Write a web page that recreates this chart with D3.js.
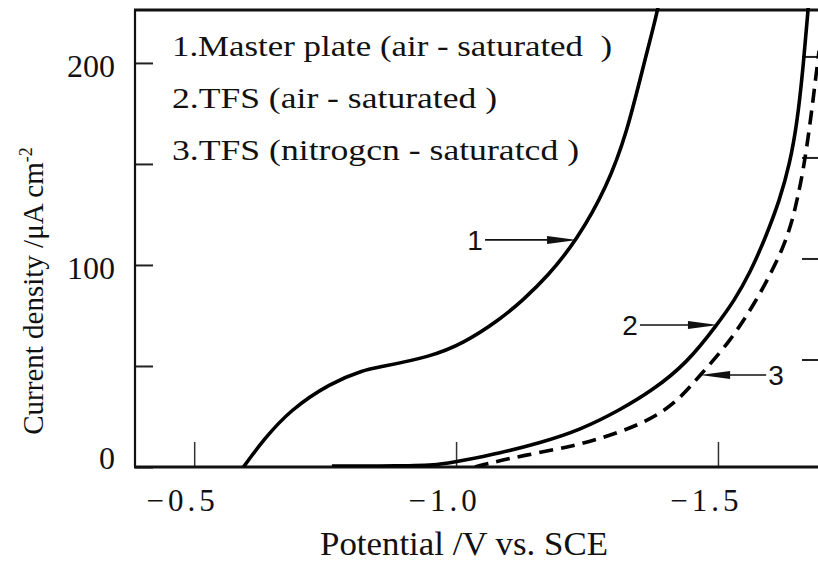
<!DOCTYPE html>
<html>
<head>
<meta charset="utf-8">
<script src="https://cdn.jsdelivr.net/npm/d3@7"></script>
<style>
  body { margin: 0; background: #fff; }
</style>
</head>
<body>
<div id="chart"></div>
<script>
// potential (V vs. SCE) and current density (uA/cm2)
const masterAir = [
  [-0.594, 0], [-0.632, 13.4], [-0.683, 28.2], [-0.760, 41.6], [-0.823, 48.0],
  [-0.855, 49.5], [-0.950, 54.5], [-1.013, 61.0], [-1.084, 73.0], [-1.128, 82.7],
  [-1.174, 94.1], [-1.231, 112.4], [-1.288, 138.6], [-1.326, 165.3], [-1.357, 198.0],
  [-1.384, 224.8], [-1.392, 236]
];
const tfsAir = [
  [-0.763, 0.5], [-0.893, 0.5], [-0.969, 1], [-1.008, 3], [-1.084, 6.9],
  [-1.160, 11.9], [-1.237, 18.3], [-1.313, 28.2], [-1.376, 38.1], [-1.441, 51.5],
  [-1.498, 70.3], [-1.532, 82.7], [-1.561, 96], [-1.590, 113], [-1.618, 132.2],
  [-1.637, 150], [-1.651, 170], [-1.662, 196], [-1.672, 226.2], [-1.675, 236]
];
const tfsNitrogen = [
  [-1.036, 0], [-1.065, 2], [-1.122, 5.4], [-1.237, 10.9], [-1.313, 17.3],
  [-1.370, 23.3], [-1.422, 32.2], [-1.466, 45.5], [-1.523, 62], [-1.574, 82.7],
  [-1.599, 95], [-1.622, 107], [-1.640, 120], [-1.652, 133], [-1.664, 148.5],
  [-1.676, 170], [-1.685, 189.1], [-1.693, 206]
];
const xTicks = [-0.5, -1.0, -1.5];
const yTicks = [0, 50, 100, 150, 200];
const yLabeled = [0, 100, 200];
const nb = n => "\u00a0".repeat(n);
const legendLines = [
  "1.Master plate (air" + nb(1) + "-" + nb(1) + "saturated" + nb(2) + ")",
  "2.TFS (air" + nb(1) + "-" + nb(1) + "saturated" + nb(1) + ")",
  "3.TFS (nitrogcn" + nb(1) + "-" + nb(1) + "saturatcd" + nb(1) + ")"
];
const legendWidths = [440, 325, 407];
// curve label: [id, potential, current, side]
const callouts = [
  ["1", -1.231, 112.4, "left"],
  ["2", -1.500, 70.3, "left"],
  ["3", -1.466, 45.5, "right"]
];

const w = 818, h = 565;
const mLeft = 135, mRight = 818, mTop = 10, mBottom = 467;
const serif = "'Liberation Serif', 'Times New Roman', serif";

const xScale = d3.scaleLinear().domain([-0.387, -1.691]).range([mLeft, mRight]);
const yScale = d3.scaleLinear().domain([0, 226.2]).range([mBottom, mTop]);

const svg = d3.select("#chart").append("svg")
  .attr("width", w).attr("height", h);

svg.append("defs").append("clipPath").attr("id", "plot")
  .append("rect").attr("x", mLeft).attr("y", mTop - 2)
  .attr("width", mRight - mLeft).attr("height", mBottom - mTop + 2);

// ticks inside the frame
const yAxis = d3.axisLeft(yScale).tickValues(yTicks).tickSize(-18).tickPadding(20)
  .tickFormat(d => yLabeled.includes(d) ? d : "");
const gy = svg.append("g").attr("transform", `translate(${mLeft},0)`).call(yAxis);
gy.select(".domain").remove();
gy.selectAll("line").attr("stroke", "#222").attr("stroke-width", 2);
gy.selectAll("text").style("font-family", serif).style("font-size", "32px")
  .attr("fill", "#111").attr("dy", "0.36em")
  .attr("y", d => d === 0 ? -10 : 2);

const xAxis = d3.axisBottom(xScale).tickValues(xTicks).tickSize(-25).tickPadding(22)
  .tickFormat(d => "\u2212" + d3.format(".1f")(-d));
const gx = svg.append("g").attr("transform", `translate(0,${mBottom})`).call(xAxis);
gx.select(".domain").remove();
gx.selectAll("line").attr("stroke", "#333").attr("stroke-width", 1.5);
gx.selectAll("text").style("font-family", serif).style("font-size", "31px")
  .attr("fill", "#111").attr("letter-spacing", 4).attr("dx", -12);

// right side ticks
svg.append("g").selectAll("line").data(yTicks.filter(d => d > 0)).enter().append("line")
  .attr("x1", mRight - 16).attr("x2", mRight)
  .attr("y1", d => yScale(d) - 6).attr("y2", d => yScale(d) - 6)
  .attr("stroke", "#222").attr("stroke-width", 2);

// frame
svg.append("line").attr("x1", mLeft).attr("x2", mLeft).attr("y1", mTop).attr("y2", mBottom)
  .attr("stroke", "#111").attr("stroke-width", 2.2);
svg.append("line").attr("x1", mLeft - 1).attr("x2", mRight).attr("y1", mTop).attr("y2", mTop)
  .attr("stroke", "#111").attr("stroke-width", 3);
svg.append("line").attr("x1", mLeft - 1).attr("x2", mRight).attr("y1", mBottom).attr("y2", mBottom)
  .attr("stroke", "#111").attr("stroke-width", 3.2);

const line = d3.line()
  .x(d => xScale(d[0]))
  .y(d => yScale(d[1]))
  .curve(d3.curveBasis);

const curves = svg.append("g").attr("clip-path", "url(#plot)");
curves.append("path").datum(masterAir).attr("d", line)
  .attr("fill", "none").attr("stroke", "#000").attr("stroke-width", 3.6);
curves.append("path").datum(tfsAir).attr("d", line)
  .attr("fill", "none").attr("stroke", "#000").attr("stroke-width", 3.6);
curves.append("path").datum(tfsNitrogen).attr("d", line)
  .attr("fill", "none").attr("stroke", "#000").attr("stroke-width", 3.6)
  .attr("stroke-dasharray", "14,8");

// legend text
svg.append("g").selectAll("text").data(legendLines).enter().append("text")
  .attr("x", 172).attr("y", (d, i) => 56 + i * 52)
  .attr("textLength", (d, i) => legendWidths[i]).attr("lengthAdjust", "spacingAndGlyphs")
  .style("font-family", serif).style("font-size", "30px").attr("fill", "#111")
  .text(d => d);

// callout arrows
const arrow = svg.append("g");
callouts.forEach(([id, v, c, side]) => {
  const px = xScale(v), py = yScale(c);
  const dir = side === "left" ? -1 : 1;
  const len = id === "3" ? 66 : (id === "2" ? 78 : 92);
  const x0 = px + dir * len;
  arrow.append("line").attr("x1", x0).attr("x2", px + dir * 26)
    .attr("y1", py).attr("y2", py).attr("stroke", "#111").attr("stroke-width", 1.6);
  arrow.append("path")
    .attr("d", `M${px},${py}L${px + dir * 30},${py - 4}L${px + dir * 30},${py + 4}Z`)
    .attr("fill", "#111");
  arrow.append("text")
    .attr("x", x0 + dir * 10).attr("y", py + 10)
    .attr("text-anchor", "middle").attr("fill", "#111")
    .style("font-family", "'Liberation Sans', Arial, sans-serif").style("font-size", "28px")
    .text(id);
});

// axis titles
svg.append("text").attr("x", 464).attr("y", 555)
  .attr("text-anchor", "middle").attr("fill", "#111")
  .attr("textLength", 288).attr("lengthAdjust", "spacingAndGlyphs")
  .style("font-family", serif).style("font-size", "33px")
  .text("Potential /V vs. SCE");
svg.append("text")
  .attr("transform", "translate(43,291) rotate(-90)")
  .attr("text-anchor", "middle").attr("fill", "#111")
  .style("font-family", serif).style("font-size", "29px")
  .text("Current density /\u03bcA cm")
  .append("tspan").style("font-size", "18px").attr("dy", -11).text("-2");
</script>
</body>
</html>
